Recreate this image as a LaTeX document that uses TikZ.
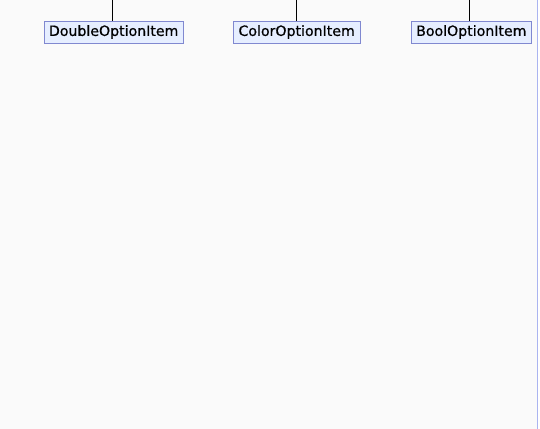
\documentclass[tikz,border=0pt]{standalone}
\usepackage{fontspec}
\setmainfont{DejaVu Sans}[FakeBold=0.6]
\definecolor{boxfill}{RGB}{230,238,255}
\definecolor{boxline}{RGB}{128,136,208}
\definecolor{edgeline}{RGB}{170,180,240}
\definecolor{bg}{RGB}{250,250,250}
\begin{document}
\begin{tikzpicture}[x=0.75pt,y=-0.75pt,
  cls/.style={draw=boxline, fill=boxfill, line width=0.75pt,
    inner sep=0pt, minimum height=16.5pt, font=\fontsize{10.6}{12}\selectfont, anchor=north west},
  conn/.style={draw=black, line width=0.75pt}]
\useasboundingbox (0,0) rectangle (540,429);
\fill[bg] (0,0) rectangle (537,429);
\draw[edgeline, line width=1.2pt] (537.5,0) -- (537.5,429);
\node[cls, minimum width=104.5pt] (d) at (43.5,20.5) {DoubleOptionItem};
\node[cls, minimum width=95.5pt] (c) at (232.5,20.5) {ColorOptionItem};
\node[cls, minimum width=90.5pt] (b) at (410.5,20.5) {BoolOptionItem};
\coordinate (dt) at (112.5,0);
\coordinate (ct) at (296.5,0);
\coordinate (bt) at (469.5,0);
\draw[conn] (dt) -- (d.north -| dt);
\draw[conn] (ct) -- (c.north -| ct);
\draw[conn] (bt) -- (b.north -| bt);
\end{tikzpicture}
\end{document}
